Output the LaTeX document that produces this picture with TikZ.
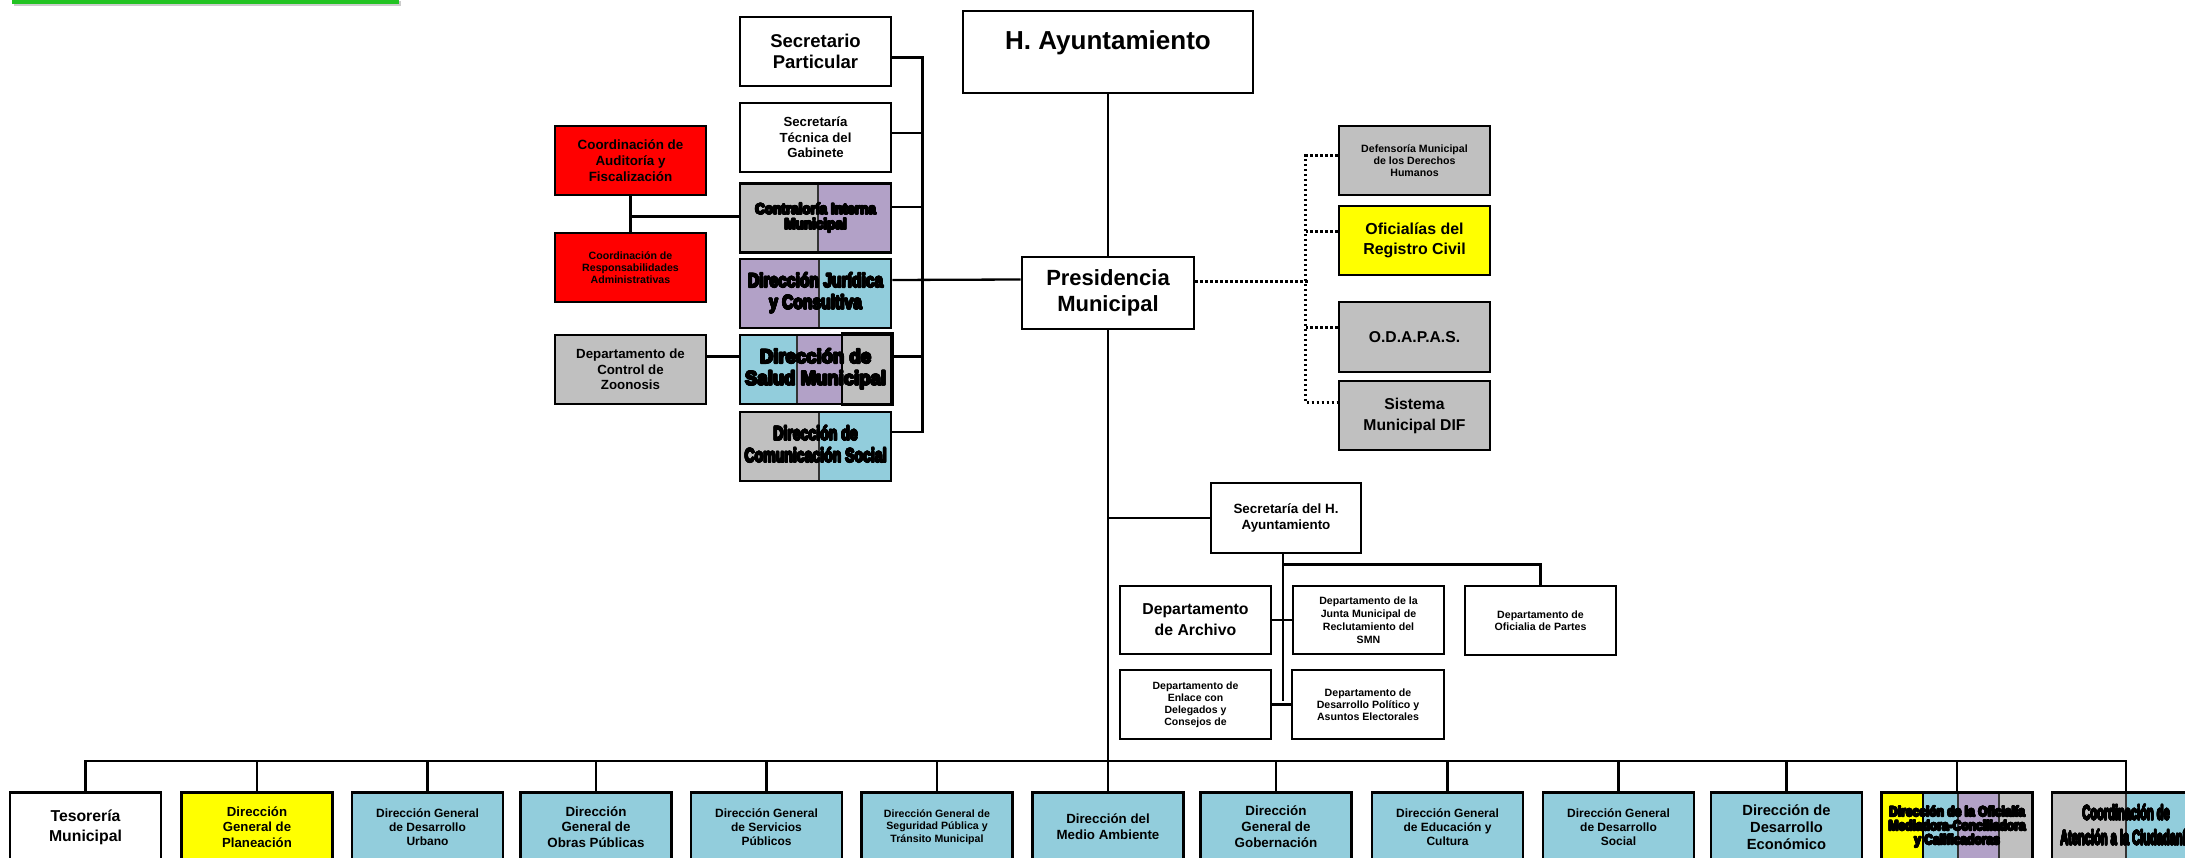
\documentclass[tikz,border=0pt]{standalone}
\usepackage{fontspec}
\usepackage{graphicx}
\setmainfont{Liberation Sans}
\newfontfamily\heavyfont[FakeBold=2]{Liberation Sans}

\definecolor{boxgrey}{HTML}{C0C0C0}
\definecolor{boxpurple}{HTML}{B2A1C7}
\definecolor{boxblue}{HTML}{92CDDC}
\definecolor{boxred}{HTML}{FF0000}
\definecolor{boxyellow}{HTML}{FFFF00}
\definecolor{bargreen}{HTML}{22C322}

% heavy, horizontally squeezed label: {xscale}{size}{skip}{lines}
% the text is stamped several times with small offsets to thicken the strokes
\newsavebox\heavybox
\newcommand{\heavyoff}{0.85pt}
\newcommand{\heavytext}[4]{%
  \sbox\heavybox{\fontsize{#2}{#3}\selectfont\heavyfont\bfseries\begin{tabular}{@{}c@{}}#4\end{tabular}}%
  \scalebox{#1}[1]{%
    \rlap{\kern-\heavyoff\usebox\heavybox}%
    \rlap{\kern\heavyoff\usebox\heavybox}%
    \rlap{\raisebox{\heavyoff}[0pt][0pt]{\usebox\heavybox}}%
    \rlap{\raisebox{-\heavyoff}[0pt][0pt]{\usebox\heavybox}}%
    \rlap{\kern-0.6pt\raisebox{0.6pt}[0pt][0pt]{\usebox\heavybox}}%
    \rlap{\kern0.6pt\raisebox{-0.6pt}[0pt][0pt]{\usebox\heavybox}}%
    \rlap{\kern0.6pt\raisebox{0.6pt}[0pt][0pt]{\usebox\heavybox}}%
    \rlap{\kern-0.6pt\raisebox{-0.6pt}[0pt][0pt]{\usebox\heavybox}}%
    \usebox\heavybox}}

\begin{document}
\begin{tikzpicture}[x=1pt,y=-1pt,
  box/.style={draw=black,line width=2.7pt,inner sep=0pt,align=center,minimum width=151pt,minimum height=69pt},
  conn/.style={draw=black,line width=2.3pt},
  dotconn/.style={draw=black,line width=3pt,dash pattern=on 2.5pt off 2.5pt},
  fs/.style 2 args={font=\fontsize{#1}{#2}\selectfont\bfseries},
  sep/.style={draw=black!80,line width=1.4pt}
]
\useasboundingbox (0,0) rectangle (2185,858);
\clip (0,0) rectangle (2185,858);
\fill[white] (0,0) rectangle (2185,858);

% green header bar
\fill[black!20] (14,1) rectangle (401,6);
\fill[bargreen] (12,-2) rectangle (399,4);

% ---- split-colour backgrounds ----
% Contraloria
\fill[boxgrey] (740,182) rectangle (818,251);
\fill[boxpurple] (818,182) rectangle (891,251);
\draw[sep] (818,182) -- (818,251);
% Juridica
\fill[boxpurple] (740,259) rectangle (819,328);
\fill[boxblue] (819,259) rectangle (891,328);
\draw[sep] (819,259) -- (819,328);
% Salud
\fill[boxblue] (740,335) rectangle (797,404);
\fill[boxpurple] (797,335) rectangle (842,404);
\draw[sep] (797,335) -- (797,404);
\filldraw[fill=boxgrey,line width=2.7pt] (842,333.5) rectangle (892.5,404.5);
% Comunicacion
\fill[boxgrey] (740,412) rectangle (819,481);
\fill[boxblue] (819,412) rectangle (891,481);
\draw[sep] (819,412) -- (819,481);
% Oficialia Mediadora
\fill[boxyellow] (1882,792) rectangle (1923,862);
\fill[boxblue] (1923,792) rectangle (1958,862);
\fill[boxpurple] (1958,792) rectangle (1999,862);
\fill[boxgrey] (1999,792) rectangle (2032,862);
\draw[black,line width=2.2pt] (1923,792) -- (1923,862);
\draw[sep] (1958,792) -- (1958,862);
\draw[sep] (1999,792) -- (1999,862);
% Atencion
\fill[boxgrey] (2052,792) rectangle (2126,862);
\fill[boxblue] (2126,792) rectangle (2200,862);
\draw[sep] (2126,792) -- (2126,862);

% ---- top ----
\node[box,minimum width=290pt,minimum height=82pt,fs={26}{30}] (ha) at (1108,52) {\raisebox{2pt}[0pt][0pt]{H. Ayuntamiento}};
\node[box,minimum width=172pt,minimum height=72pt,fs={22}{26}] (pm) at (1108,293) {Presidencia\\Municipal};

% ---- staff column ----
\node[box,fs={18.5}{21.7}] (sp) at (815.5,51.5) {Secretario\\Particular};
\node[box,fs={13.2}{15.5}] (st) at (815.5,137.5) {Secretaría\\Técnica del\\Gabinete};
\node[box] (ci) at (815.5,218) {\heavytext{0.9}{15}{14}{Contraloría Interna\\Municipal}};
\node[box] (dj) at (815.5,293.5) {\heavytext{0.8}{19.5}{21.7}{Dirección Jurídica\\y Consultiva}};
\node[box] (ds) at (815.5,369.5) {\heavytext{0.95}{19.5}{21.7}{Dirección de\\Salud Municipal}};
\node[box] (dc) at (815.5,446.5) {\heavytext{0.72}{19.5}{22}{Dirección de\\Comunicación Social}};

\node[box,fill=boxred,fs={13.4}{16}] (ra) at (630.5,160.5) {Coordinación de\\Auditoría y\\Fiscalización};
\node[box,fill=boxred,fs={10.6}{12.2}] (rr) at (630.5,267.5) {Coordinación de\\Responsabilidades\\Administrativas};
\node[box,fill=boxgrey,fs={13.3}{15.7}] (zo) at (630.5,369.5) {Departamento de\\Control de\\Zoonosis};

% ---- decentralised bodies ----
\node[box,fill=boxgrey,fs={10.6}{12}] (dh) at (1414.5,160.5) {Defensoría Municipal\\de los Derechos\\Humanos};
\node[box,fill=boxyellow,fs={15.9}{20.7}] (of) at (1414.5,240.5) {Oficialías del\\Registro Civil};
\node[box,fill=boxgrey,minimum height=70pt,fs={15.7}{20}] (od) at (1414.5,337) {O.D.A.P.A.S.};
\node[box,fill=boxgrey,fs={15.7}{21}] (df) at (1414.5,415.5) {Sistema\\Municipal DIF};

% ---- Secretaria del H. Ayuntamiento ----
\node[box,minimum width=150pt,minimum height=70pt,fs={13.4}{15.5}] (sh) at (1286,518) {Secretaría del H.\\Ayuntamiento};
\node[box,minimum height=68pt,fs={15.8}{21}] (ar) at (1195.5,620) {Departamento\\de Archivo};
\node[box,minimum height=68pt,fs={10.6}{13}] (jm) at (1368.5,620) {Departamento de la\\Junta Municipal de\\Reclutamiento del\\SMN};
\node[box,fs={10.6}{12.3}] (op) at (1540.5,620.5) {Departamento de\\Oficialia de Partes};
\node[box,fs={10.5}{12}] (en) at (1195.5,704.5) {Departamento de\\Enlace con\\Delegados y\\Consejos de};
\node[box,minimum width=152pt,fs={10.6}{12}] (dp) at (1368,704.5) {Departamento de\\Desarrollo Político y\\Asuntos Electorales};

% ---- bottom row ----
\begin{scope}[every node/.append style={minimum height=70pt}]
\node[box,fs={15.8}{20}] (b1) at (85.5,827) {Tesorería\\Municipal};
\node[box,fill=boxyellow,fs={13.2}{15.7}] (b2) at (257,827) {Dirección\\General de\\Planeación};
\node[box,fill=boxblue,fs={12}{13.7}] (b3) at (427.5,827) {Dirección General\\de Desarrollo\\Urbano};
\node[box,fill=boxblue,fs={13.35}{15.7}] (b4) at (596,827) {Dirección\\General de\\Obras Públicas};
\node[box,fill=boxblue,fs={12}{13.7}] (b5) at (766.5,827) {Dirección General\\de Servicios\\Públicos};
\node[box,fill=boxblue,fs={10.6}{12.5}] (b6) at (937,827) {Dirección General de\\Seguridad Pública y\\Tránsito Municipal};
\node[box,fill=boxblue,fs={13.3}{16}] (b7) at (1108,827) {Dirección del\\Medio Ambiente};
\node[box,fill=boxblue,fs={13.4}{16}] (b8) at (1276,827) {Dirección\\General de\\Gobernación};
\node[box,fill=boxblue,fs={12}{13.7}] (b9) at (1447.5,827) {Dirección General\\de Educación y\\Cultura};
\node[box,fill=boxblue,fs={12}{13.7}] (b10) at (1618.5,827) {Dirección General\\de Desarrollo\\Social};
\node[box,fill=boxblue,fs={14.7}{17.2}] (b11) at (1786.5,827) {Dirección de\\Desarrollo\\Económico};
\node[box] (b12) at (1957,827) {\heavytext{0.86}{14}{13}{Dirección de la Oficialía\\Mediadora-Conciliadora\\y Calificadoras}};
\node[box,minimum width=148pt] (b13) at (2126,827) {\heavytext{0.54}{20.5}{25}{Coordinación de\\Atención a la Ciudadanía}};
\end{scope}

% ---- connectors ----
\draw[conn] (ha.south) -- (pm.north);
\draw[conn] (pm.south) -- (b7.north);
\draw[conn] ([yshift=13.5pt]dj.east) -- ([yshift=13.5pt]pm.west);

\draw[conn] ([yshift=-6pt]sp.east) -- ++(30,0) |- ([yshift=14.5pt]dc.east);
\draw[conn] ([yshift=4.5pt]st.east) -- ++(30,0);
\draw[conn] ([yshift=11pt]ci.east) -- ++(30,0);
\draw[conn] ([yshift=13pt]ds.east) -- ++(29.5,0);

\draw[conn] (ra.south) -- (rr.north);
\draw[conn] ([yshift=1.5pt]ra.south |- ci.west) -- ([yshift=1.5pt]ci.west);
\draw[conn] ([yshift=13pt]zo.east) -- ([yshift=13pt]ds.west);

\draw[dotconn] ([yshift=11pt]pm.east) -- ++(113,0);
\draw[dotconn] ([yshift=4.5pt]dh.west) -- ++(-32,0) |- ([yshift=12.5pt]df.west);
\draw[dotconn] ([yshift=8.5pt]of.west) -- ++(-32,0);
\draw[dotconn] ([yshift=9pt]od.west) -- ++(-32,0);

\draw[conn] (pm.south |- sh.west) -- (sh.west);
\draw[conn] ([xshift=-3pt]sh.south) -- ++(0,147);
\draw[conn] ([xshift=-3pt,yshift=-10pt]sh.south) -| (op.north);
\draw[conn] (ar.east) -- (jm.west);
\draw[conn] (en.east) -- (dp.west);

\draw[conn] (b1.north) -- ++(0,-30) -| (b13.north);
\foreach \b in {b2,b3,b4,b5,b6,b8,b9,b10,b11,b12}
  \draw[conn] (\b.north) -- ++(0,-30);
\end{tikzpicture}
\end{document}
